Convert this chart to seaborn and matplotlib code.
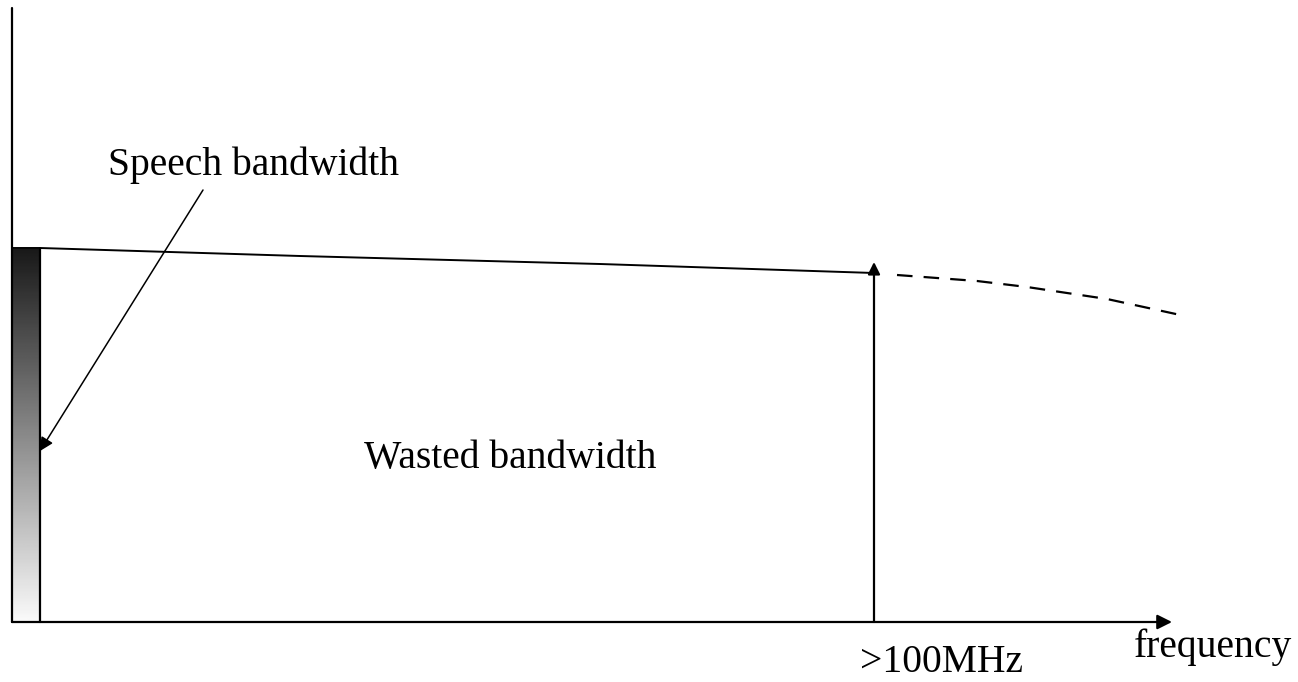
import numpy as np
import pandas as pd
import matplotlib
matplotlib.use("Agg")
import matplotlib.pyplot as plt
import seaborn as sns

sns.set_style("white")
plt.rcParams["font.family"] = ["Liberation Serif", "DejaVu Serif"]

# diagram values, in picture units (x to the right, y downward)
axis_origin = (12, 622)
axis_top = 8
axis_right = 1172
speech_edge = 40
speech_top = 249
cutoff_x = 874
cutoff_top = 262

band_x = [40, 300, 600, 874]
band_y = [248, 256, 264, 273]
tail_x = [897, 977, 1027, 1107, 1185]
tail_y = [275, 281, 287, 299, 316]

labels = ["Speech bandwidth", "Wasted bandwidth", ">100MHz", "frequency"]
label_x = [108, 364, 860, 1134]
label_y = [175, 468, 672, 657]

fig = plt.figure(figsize=(12.98, 6.82), dpi=100)
ax = fig.add_axes([0, 0, 1, 1])
ax.set_xlim(0, 1298)
ax.set_ylim(682, 0)
ax.axis("off")

# gradient block for the speech band
grad = np.linspace(0.1, 0.98, 256).reshape(-1, 1)
ax.imshow(grad, cmap="gray", vmin=0, vmax=1, aspect="auto",
          extent=(axis_origin[0], speech_edge, axis_origin[1], speech_top), zorder=1)
ax.plot([speech_edge, speech_edge], [speech_top, axis_origin[1]], color="black", lw=1.6, zorder=2)

# axes
ax.plot([axis_origin[0], axis_origin[0]], [axis_top, axis_origin[1]], color="black", lw=1.6, zorder=3)
ax.annotate("", xy=(axis_right, axis_origin[1]), xytext=(axis_origin[0], axis_origin[1]),
            arrowprops=dict(arrowstyle="-|>", color="black", lw=1.6, mutation_scale=22,
                            shrinkA=0, shrinkB=0))

# bandwidth line and its dashed continuation
df_band = pd.DataFrame({"x": band_x, "y": band_y})
sns.lineplot(data=df_band, x="x", y="y", ax=ax, color="black", lw=1.4, sort=False)
df_tail = pd.DataFrame({"x": tail_x, "y": tail_y})
line = sns.lineplot(data=df_tail, x="x", y="y", ax=ax, color="black", lw=1.6, sort=False)
line.lines[-1].set_dashes((7, 5))
ax.plot([band_x[0], axis_origin[0]], [band_y[0], band_y[0]], color="black", lw=1.4)

# cutoff marker
ax.annotate("", xy=(cutoff_x, cutoff_top), xytext=(cutoff_x, axis_origin[1]),
            arrowprops=dict(arrowstyle="-|>", color="black", lw=1.6, mutation_scale=18,
                            shrinkA=0, shrinkB=0))

# speech bandwidth pointer
ax.annotate("", xy=(speech_edge, 451), xytext=(203, 190),
            arrowprops=dict(arrowstyle="-|>", color="black", lw=1.1, mutation_scale=20,
                            shrinkA=0, shrinkB=0))

for t, x, y in zip(labels, label_x, label_y):
    ax.text(x, y, t, fontsize=28.5, va="baseline", ha="left", color="black")

ax.set_xlabel("")
ax.set_ylabel("")
fig.savefig("out.png", dpi=100)
